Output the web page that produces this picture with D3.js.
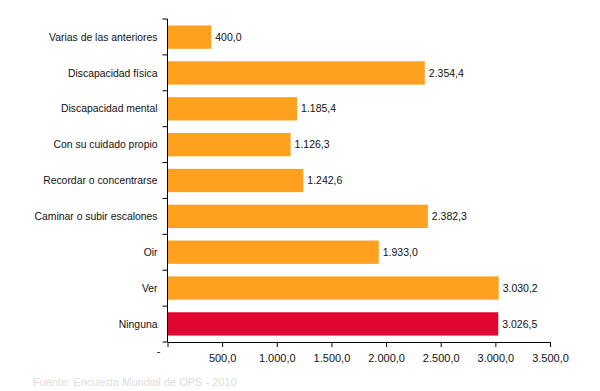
<!DOCTYPE html>
<html>
<head>
<meta charset="utf-8">
<script src="https://cdn.jsdelivr.net/npm/d3@7"></script>
<style>
  body { margin: 0; background: #fff; }
  svg { display: block; font-family: "Liberation Sans", Arial, sans-serif; }
</style>
</head>
<body>
<div id="chart"></div>
<script>
// Categories, top to bottom
const categories = [
    "Varias de las anteriores", "Discapacidad física", "Discapacidad mental",
    "Con su cuidado propio", "Recordar o concentrarse", "Caminar o subir escalones",
    "Oir", "Ver", "Ninguna"
];
const values = [400.0, 2354.4, 1185.4, 1126.3, 1242.6, 2382.3, 1933.0, 3030.2, 3026.5];
const highlighted = ["Ninguna"];
const tickValues = [0, 500, 1000, 1500, 2000, 2500, 3000, 3500];

const width = 600, height = 391;
const margin = {top: 19, right: 50, bottom: 49, left: 167.5};

// Spanish number format: 1.234,5
const es = d3.formatLocale({decimal: ",", thousands: ".", grouping: [3], currency: ["", ""]});
const fmt = es.format(",.1f");

const svg = d3.select("#chart").append("svg")
    .attr("width", width)
    .attr("height", height);

const x = d3.scaleLinear().domain([0, 3500]).range([margin.left, 550]);
const y = d3.scaleBand().domain(categories)
    .range([margin.top, height - margin.bottom])
    .paddingInner(0.35).paddingOuter(0.18);

// Bars
svg.append("g").selectAll("rect")
    .data(categories)
    .join("rect")
    .attr("x", x(0))
    .attr("y", d => y(d))
    .attr("width", (d, i) => x(values[i]) - x(0))
    .attr("height", y.bandwidth())
    .attr("fill", d => highlighted.includes(d) ? "#E0062F" : "#FFA11E");

// Value labels
svg.append("g").selectAll("text")
    .data(categories)
    .join("text")
    .attr("x", (d, i) => x(values[i]) + 4)
    .attr("y", d => y(d) + y.bandwidth() / 2)
    .attr("dy", "0.35em")
    .style("font-size", "10.5px")
    .style("fill", "#111")
    .text((d, i) => fmt(values[i]));

// X axis
const xAxis = svg.append("g")
    .attr("transform", `translate(0,${height - margin.bottom})`)
    .call(d3.axisBottom(x).tickValues(tickValues).tickSize(5).tickSizeOuter(0)
        .tickFormat(d => d === 0 ? "" : fmt(d)));
xAxis.select(".domain").attr("stroke", "#000");
xAxis.selectAll(".tick text").style("font-size", "11px").style("fill", "#111").attr("dy", "1.1em");
// zero tick shows a dash, left of the axis
xAxis.append("text")
    .attr("x", x(0) - 9)
    .attr("y", 13)
    .style("font-size", "11px")
    .style("fill", "#111")
    .attr("text-anchor", "middle")
    .text("-");

// Y axis: ticks between categories
const yAxis = svg.append("g")
    .attr("transform", `translate(${x(0)},0)`);
yAxis.append("line")
    .attr("x1", 0).attr("x2", 0)
    .attr("y1", margin.top).attr("y2", height - margin.bottom)
    .attr("stroke", "#000");
const bounds = d3.range(categories.length + 1).map(i => margin.top + i * (height - margin.top - margin.bottom) / categories.length);
yAxis.selectAll("line.tk")
    .data(bounds)
    .join("line")
    .attr("class", "tk")
    .attr("x1", -5).attr("x2", 0)
    .attr("y1", d => d).attr("y2", d => d)
    .attr("stroke", "#000");

// Category labels
svg.append("g").selectAll("text")
    .data(categories)
    .join("text")
    .attr("x", x(0) - 10)
    .attr("y", d => y(d) + y.bandwidth() / 2)
    .attr("dy", "0.35em")
    .attr("text-anchor", "end")
    .style("font-size", "10.4px")
    .style("fill", "#111")
    .text(d => d);

// Faint source note (cut off at bottom)
svg.append("text")
    .attr("x", 33)
    .attr("y", 386)
    .style("font-size", "11px")
    .style("fill", "#dcdcdc")
    .text("Fuente: Encuesta Mundial de OPS - 2010");
</script>
</body>
</html>
